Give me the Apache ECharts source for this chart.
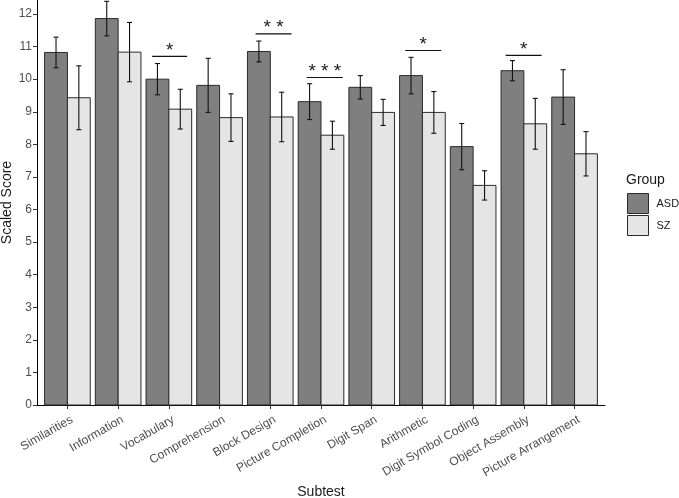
<!DOCTYPE html>
<html>
<head>
<meta charset="utf-8">
<script src="https://cdn.jsdelivr.net/npm/echarts@6/dist/echarts.min.js"></script>
<style>
html,body{margin:0;padding:0;background:#fff;}
#chart{width:679px;height:498px;}
</style>
</head>
<body>
<div id="chart"></div>
<script>
var categories = ['Similarities','Information','Vocabulary','Comprehension','Block Design','Picture Completion','Digit Span','Arithmetic','Digit Symbol Coding','Object Assembly','Picture Arrangement'];
var asdMean = [10.82, 11.86, 10.00, 9.81, 10.85, 9.31, 9.75, 10.11, 7.93, 10.26, 9.45];
var asdErr  = [0.47, 0.53, 0.48, 0.83, 0.32, 0.55, 0.36, 0.56, 0.71, 0.31, 0.84];
var szMean  = [9.43, 10.83, 9.08, 8.82, 8.84, 8.28, 8.98, 8.98, 6.74, 8.63, 7.71];
var szErr   = [0.98, 0.91, 0.61, 0.73, 0.76, 0.43, 0.40, 0.64, 0.45, 0.78, 0.68];
var yTicks  = [0,1,2,3,4,5,6,7,8,9,10,11,12];
var sigIndex = [2, 4, 5, 7, 9];
var sigLabel = ['*', '**', '***', '*', '*'];
var sigY     = [10.70, 11.39, 10.05, 10.88, 10.73];
var sigFrom  = [-0.33, -0.29, -0.28, -0.34, -0.36];
var sigTo    = [0.36, 0.42, 0.43, 0.37, 0.35];

var catPos = categories.map(function(c,i){return i+1;});

function makeData(means, errs){
  return means.map(function(m,i){return [i+1, m, errs[i]];});
}

function barRenderer(offset, fill){
  return function(params, api){
    var x = api.value(0) + offset;
    var v = api.value(1);
    var e = api.value(2);
    var p0 = api.coord([x - 0.225, 0]);
    var p1 = api.coord([x + 0.225, v]);
    var top = api.coord([x, v + e]);
    var bot = api.coord([x, v - e]);
    var cl = api.coord([x - 0.05, v])[0];
    var cr = api.coord([x + 0.05, v])[0];
    var es = {stroke:'#111', lineWidth:1.1};
    return {type:'group', children:[
      {type:'rect', shape:{x:p0[0], y:p1[1], width:p1[0]-p0[0], height:p0[1]-p1[1]},
       style:{fill:fill, stroke:'#2b2b2b', lineWidth:1}},
      {type:'line', shape:{x1:top[0], y1:top[1], x2:bot[0], y2:bot[1]}, style:es},
      {type:'line', shape:{x1:cl, y1:top[1], x2:cr, y2:top[1]}, style:es},
      {type:'line', shape:{x1:cl, y1:bot[1], x2:cr, y2:bot[1]}, style:es}
    ]};
  };
}

var sigData = sigIndex.map(function(ci,i){return [ci+1, sigY[i], sigFrom[i], sigTo[i], i];});

function sigRenderer(params, api){
  var x = api.value(0), y = api.value(1);
  var a = api.coord([x + api.value(2), y]);
  var b = api.coord([x + api.value(3), y]);
  var lbl = sigLabel[api.value(4)].split('').join(' ');
  return {type:'group', children:[
    {type:'line', shape:{x1:a[0], y1:a[1], x2:b[0], y2:b[1]}, style:{stroke:'#111', lineWidth:1.1}},
    {type:'text', style:{text:lbl, x:(a[0]+b[0])/2, y:a[1]-6, align:'center', verticalAlign:'middle',
      fontSize:19, fontFamily:'Liberation Sans, Arial, sans-serif', fill:'#1a1a1a'}}
  ]};
}

var chart = echarts.init(document.getElementById('chart'), null, {renderer:'canvas'});
chart.setOption({
  animation:false,
  backgroundColor:'#ffffff',
  textStyle:{fontFamily:'Liberation Sans, Arial, sans-serif'},
  title:{text:'Group', left:626, top:173, textStyle:{fontSize:14, fontWeight:'normal', color:'#1a1a1a', fontFamily:'Liberation Sans, Arial, sans-serif'}, padding:0},
  legend:{
    orient:'vertical', left:627, top:193, itemWidth:21, itemHeight:20, itemGap:1, padding:0,
    icon:'rect',
    textStyle:{fontSize:11, color:'#1a1a1a', padding:[0,0,0,3]},
    data:[
      {name:'ASD', itemStyle:{color:'#7f7f7f', borderColor:'#2b2b2b', borderWidth:1}},
      {name:'SZ', itemStyle:{color:'#e5e5e5', borderColor:'#2b2b2b', borderWidth:1}}
    ]
  },
  grid:{left:37, right:74, top:0, bottom:93, containLabel:false, outerBoundsMode:'none'},
  xAxis:{
    type:'value', min:0.4, max:11.6,
    name:'Subtest', nameLocation:'middle', nameGap:80, nameMoveOverlap:false,
    nameTextStyle:{fontSize:14, color:'#1a1a1a'},
    axisLine:{show:true, lineStyle:{color:'#000', width:1}},
    axisTick:{show:true, length:4, lineStyle:{color:'#333'}, customValues:catPos},
    axisLabel:{show:true, rotate:30, fontSize:12, color:'#4d4d4d', margin:6, verticalAlign:'top', lineHeight:18,
      customValues:catPos, hideOverlap:false,
      formatter:function(v){return categories[Math.round(v)-1] || '';}},
    splitLine:{show:false}
  },
  yAxis:{
    type:'value', min:0, max:12.43,
    name:'Scaled Score', nameLocation:'middle', nameGap:23, nameRotate:90, nameMoveOverlap:false,
    nameTextStyle:{fontSize:14, color:'#1a1a1a'},
    axisLine:{show:true, lineStyle:{color:'#000', width:1}},
    axisTick:{show:true, length:4, lineStyle:{color:'#333'}, customValues:yTicks},
    axisLabel:{fontSize:12, color:'#4d4d4d', margin:5, customValues:yTicks},
    splitLine:{show:false}
  },
  series:[
    {name:'ASD', type:'custom', renderItem:barRenderer(-0.225, '#7f7f7f'), data:makeData(asdMean, asdErr),
     itemStyle:{color:'#7f7f7f', borderColor:'#2b2b2b'}, encode:{x:0, y:1}, clip:false},
    {name:'SZ', type:'custom', renderItem:barRenderer(0.225, '#e5e5e5'), data:makeData(szMean, szErr),
     itemStyle:{color:'#e5e5e5', borderColor:'#2b2b2b'}, encode:{x:0, y:1}, clip:false},
    {name:'sig', type:'custom', renderItem:sigRenderer, data:sigData, encode:{x:0, y:1}, clip:false, silent:true}
  ]
});
</script>
</body>
</html>
